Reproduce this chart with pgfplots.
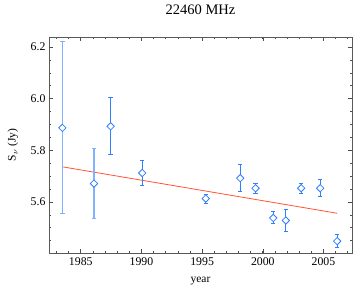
\documentclass[border=0pt]{standalone}
\usepackage{pgfplots}
\pgfplotsset{compat=1.18}
\usepackage{fontspec}
\setmainfont{Liberation Serif}
\definecolor{ptblue}{HTML}{2F7FFF}
\definecolor{lightblue}{HTML}{7FB2FF}
\definecolor{fitred}{HTML}{FF5533}
\begin{document}
\begin{tikzpicture}
\useasboundingbox (-49pt,-37pt) rectangle (305pt,253pt);
\begin{axis}[
  at={(0,0)}, anchor=south west,
  scale only axis, width=303pt, height=216pt,
  xmin=1982.38, xmax=2007.35, ymin=5.402, ymax=6.239,
  xtick={1985,1990,1995,2000,2005},
  minor xtick={1983,1984,...,2007},
  ytick={5.6,5.8,6.0,6.2},
  minor ytick={5.45,5.5,...,6.2},
  xticklabel style={/pgf/number format/1000 sep={}},
  yticklabel style={/pgf/number format/fixed,/pgf/number format/fixed zerofill,/pgf/number format/precision=1},
  /pgf/number format/assume math mode=true,
  ticklabel style={font=\fontsize{11.8}{12}\selectfont},
  tick align=inside,
  major tick length=4pt, minor tick length=2pt,
  axis line style={draw=black!65, line width=0.9pt},
  every tick/.style={black!70, line width=0.6pt},
  xtick pos=both, ytick pos=both,
  axis lines=box,
  xlabel={year},
  xlabel style={font=\fontsize{11.5}{12}\selectfont, at={(axis description cs:0.5,0)}, anchor=base, yshift=-29pt},
  xticklabel style={yshift=-1pt},
  clip=false,
]
\addplot[fitred, line width=0.8pt] coordinates {(1983.48,5.736) (2006.13,5.556)};
\addplot[lightblue, line width=1.3pt, mark=square*, mark size=2.6pt,
  mark options={draw=ptblue, fill=white, line width=0.8pt, rotate=45},
  only marks, error bars/.cd, y dir=both, y explicit,
  error bar style={lightblue, line width=1.4pt}, error mark options={rotate=90, mark size=2.2pt, lightblue, line width=1pt}]
  coordinates {
  (1983.48,5.887) +- (0,0.333)
  (1986.09,5.671) +- (0,0.136)
};
\addplot[ptblue, line width=0.8pt, mark=square*, mark size=2.6pt,
  mark options={draw=ptblue, fill=white, line width=0.8pt, rotate=45},
  only marks, error bars/.cd, y dir=both, y explicit,
  error bar style={ptblue, line width=1pt}, error mark options={rotate=90, mark size=2.2pt, ptblue, line width=1pt}]
  table[x=x, y=y, y error plus=ep, y error minus=em] {
  x y ep em
  1987.46 5.893 0.112 0.111
  1990.06 5.712 0.048 0.047
  1995.30 5.613 0.017 0.018
  1998.14 5.692 0.054 0.053
  1999.40 5.653 0.019 0.020
  2000.86 5.538 0.023 0.023
  2001.90 5.528 0.043 0.044
  2003.16 5.653 0.019 0.020
  2004.73 5.653 0.034 0.032
  2006.13 5.448 0.026 0.025
};
\node[font=\fontsize{14.5}{16}\selectfont, anchor=base] at (axis description cs:0.5,1) [yshift=23pt] {22460 MHz};
\node[font=\fontsize{11.5}{12}\selectfont, rotate=90, anchor=center] at (axis description cs:-0.1188,0.5) {S$_\nu$ (Jy)};
\end{axis}
\end{tikzpicture}
\end{document}
